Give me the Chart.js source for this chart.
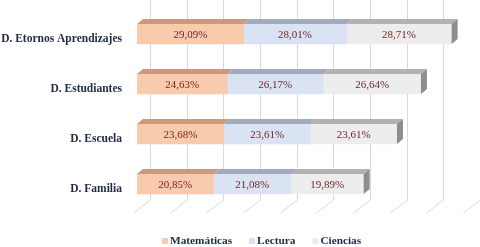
<!DOCTYPE html>
<html>
<head>
<meta charset="utf-8">
<script src="https://cdn.jsdelivr.net/npm/chart.js@4"></script>
<style>
  html, body { margin: 0; padding: 0; background: #ffffff; }
  #wrap { position: relative; width: 480px; height: 247px; }
</style>
</head>
<body>
<div id="wrap"><canvas id="chart"></canvas></div>
<script>
// Stacked 3D-look horizontal bars: dimension shares per subject
const categories = ['D. Etornos Aprendizajes', 'D. Estudiantes', 'D. Escuela', 'D. Familia'];
const seriesNames = ['Matemáticas', 'Lectura', 'Ciencias'];
const matematicas = [29.09, 24.63, 23.68, 20.85];
const lectura = [28.01, 26.17, 23.61, 21.08];
const ciencias = [28.71, 26.64, 23.61, 19.89];
const gridTicks = [0, 10, 20, 30, 40, 50, 60, 70, 80, 90];

const frontColors = ['#F8CBAD', '#DAE3F3', '#EDEDED'];
const topColors = ['#C99A7E', '#A2ABBB', '#B2B2B2'];
const sideColor = '#8E8E8E';
const serif = '"Liberation Serif", "Times New Roman", serif';
const navy = '#1F2A47';

const DX = 6, DY = -5;          // bar depth
const WALL_DX = 13;             // back wall offset for gridlines

function fmt(v) {
    return v.toFixed(2).replace('.', ',') + '%';
}

// gridlines on the back wall plus floor lines
const wallPlugin = {
    id: 'wall',
    beforeDatasetsDraw(chart) {
        const ctx = chart.ctx;
        const xs = chart.scales.x;
        const floorY = chart.chartArea.bottom - 9;
        ctx.save();
        ctx.strokeStyle = '#D9D9D9';
        ctx.lineWidth = 1;
        gridTicks.forEach(function (v) {
            const x = Math.round(xs.getPixelForValue(v) + WALL_DX) + 0.5;
            ctx.beginPath();
            ctx.moveTo(x, 0);
            ctx.lineTo(x, floorY);
            ctx.lineTo(x - 17, floorY + 13);
            ctx.stroke();
        });
        ctx.restore();
    }
};

// top and side faces, and the value labels
const barsPlugin = {
    id: 'bars3d',
    afterDatasetsDraw(chart) {
        const ctx = chart.ctx;
        ctx.save();
        chart.data.datasets.forEach(function (ds, di) {
            const meta = chart.getDatasetMeta(di);
            meta.data.forEach(function (bar, i) {
                const p = bar.getProps(['x', 'y', 'base', 'height'], true);
                const top = p.y - p.height / 2;
                const bottom = p.y + p.height / 2;
                ctx.fillStyle = topColors[di];
                ctx.beginPath();
                ctx.moveTo(p.base, top);
                ctx.lineTo(p.base + DX, top + DY);
                ctx.lineTo(p.x + DX, top + DY);
                ctx.lineTo(p.x, top);
                ctx.closePath();
                ctx.fill();
                if (di === chart.data.datasets.length - 1) {
                    ctx.fillStyle = sideColor;
                    ctx.beginPath();
                    ctx.moveTo(p.x, top);
                    ctx.lineTo(p.x + DX, top + DY);
                    ctx.lineTo(p.x + DX, bottom + DY);
                    ctx.lineTo(p.x, bottom);
                    ctx.closePath();
                    ctx.fill();
                }
                ctx.fillStyle = '#6E1F24';
                ctx.font = '11px ' + serif;
                ctx.textAlign = 'center';
                ctx.textBaseline = 'middle';
                ctx.fillText(fmt(ds.data[i]), (p.x + p.base) / 2, p.y + 1);
            });
        });
        ctx.restore();
    }
};

// legend drawn under the plot
const legendPlugin = {
    id: 'customLegend',
    afterDraw(chart) {
        const ctx = chart.ctx;
        ctx.save();
        ctx.font = 'bold 11.3px ' + serif;
        ctx.textBaseline = 'middle';
        let x = 162;
        const y = 241;
        seriesNames.forEach(function (name, i) {
            ctx.fillStyle = frontColors[i];
            ctx.fillRect(x, y - 3, 6, 6);
            ctx.fillStyle = navy;
            ctx.fillText(name, x + 8, y);
            x += 8 + ctx.measureText(name).width + 17;
        });
        ctx.restore();
    }
};

new Chart(document.getElementById('chart'), {
    type: 'bar',
    data: {
        labels: categories,
        datasets: [
            { label: seriesNames[0], data: matematicas, backgroundColor: frontColors[0] },
            { label: seriesNames[1], data: lectura, backgroundColor: frontColors[1] },
            { label: seriesNames[2], data: ciencias, backgroundColor: frontColors[2] }
        ]
    },
    options: {
        indexAxis: 'y',
        responsive: true,
        maintainAspectRatio: false,
        animation: false,
        layout: { padding: { top: 9, right: 13, bottom: 38, left: 0 } },
        datasets: { bar: { barThickness: 20, borderWidth: 0 } },
        plugins: {
            legend: { display: false },
            tooltip: { enabled: false }
        },
        scales: {
            x: {
                stacked: true,
                min: 0,
                max: 90,
                display: false
            },
            y: {
                stacked: true,
                grid: { display: false, drawTicks: false },
                border: { display: false },
                afterFit: function (scale) {
                    scale.width = 137;
                    scale.paddingTop = 0;
                    scale.paddingBottom = 0;
                },
                ticks: {
                    padding: 15,
                    labelOffset: 5,
                    color: navy,
                    font: { family: serif, size: 11.5, weight: 'bold' }
                }
            }
        }
    },
    plugins: [wallPlugin, barsPlugin, legendPlugin]
});
</script>
</body>
</html>
